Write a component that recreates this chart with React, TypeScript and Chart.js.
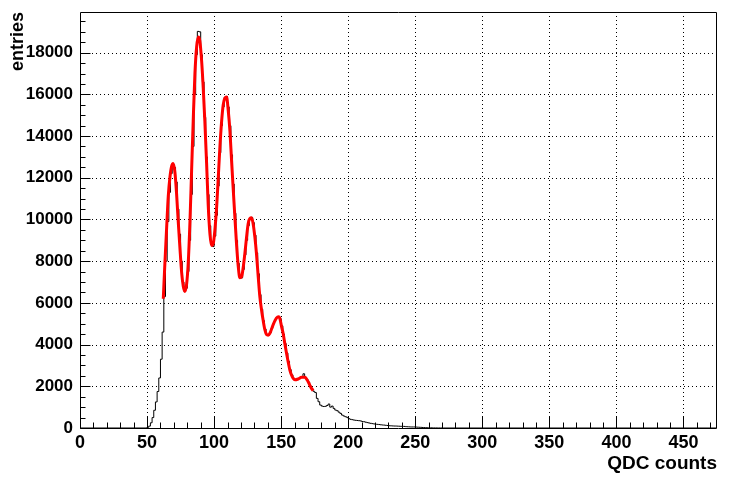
import { useEffect, useRef } from 'react';
import { Chart, registerables } from 'chart.js';

Chart.register(...registerables);

const X_MIN = 0;
const X_MAX = 475;
const Y_MIN = 0;
const Y_MAX = 19950;
const X_TICKS = [0, 50, 100, 150, 200, 250, 300, 350, 400, 450];
const Y_TICKS = [0, 2000, 4000, 6000, 8000, 10000, 12000, 14000, 16000, 18000];
const X_MINOR_STEP = 10;
const Y_MINOR_STEP = 500;
const X_TITLE = 'QDC counts';
const Y_TITLE = 'entries';

// histogram: bins of width BIN_WIDTH starting at HIST_START (all other bins empty)
const HIST_START = 50;
const BIN_WIDTH = 1.25;
const HIST_VALUES = [
  30, 90, 250, 500, 850, 1250, 1750, 2400, 3300, 4600,
  6300, 8000, 9900, 11300, 12200, 12650, 12500, 11800, 10500, 9300,
  8000, 7000, 6550, 6700, 7500, 9000, 11200, 13500, 16000, 17900,
  19020, 19000, 17900, 16600, 14900, 13000, 11200, 9700, 8850, 8700,
  9200, 10200, 11600, 13200, 14500, 15400, 15850, 15900, 15400, 14500,
  13100, 11700, 10300, 9000, 7900, 7250, 7200, 7600, 8300, 9000,
  9700, 10050, 10100, 9850, 9250, 8400, 7400, 6400, 5700, 5150,
  4750, 4480, 4450, 4560, 4780, 5000, 5200, 5300, 5350, 5250,
  4900, 4500, 4050, 3600, 3200, 2800, 2550, 2380, 2300, 2330,
  2380, 2420, 2450, 2600, 2430, 2330, 2200, 2020, 1880, 1760,
  1700, 1420, 1260, 1100, 1050, 1030, 1040, 1080, 1150, 1000,
  1050, 940, 860, 830, 760, 700, 620, 575, 540, 510,
  450, 415, 400, 380, 370, 360, 350, 340, 310, 300,
  280, 260, 240, 225, 210, 195, 180, 175, 165, 155,
  145, 140, 130, 120, 110, 105, 100, 95, 95, 90,
  85, 80, 80, 75, 65, 60, 55, 50, 50, 50,
  45, 40, 35, 30, 25, 20, 15, 12, 10, 8,
  5, 4, 3, 2, 2, 1, 1,
];

// fit curve
const FIT_X = [
  62.1, 63.3, 64.6, 65.8, 67.1, 68.3, 69.5, 70.8, 72.0, 73.3,
  74.5, 75.8, 77.0, 78.2, 79.5, 80.7, 82.0, 83.2, 84.4, 85.7,
  87.0, 88.2, 89.4, 90.7, 91.9, 93.1, 94.4, 95.6, 96.9, 98.1,
  99.4, 100.6, 101.9, 103.1, 104.3, 105.6, 106.8, 108.0, 109.3, 110.5,
  111.8, 113.0, 114.3, 115.5, 116.8, 118.0, 119.2, 120.5, 121.7, 122.9,
  124.2, 125.4, 126.7, 127.9, 129.1, 130.4, 131.6, 132.9, 134.1, 135.4,
  136.6, 137.9, 139.1, 140.3, 141.6, 144.0, 146.6, 148.0, 149.0, 150.3,
  151.5, 152.7, 154.0, 155.2, 156.5, 157.7, 159.0, 160.2, 162.7, 165.2,
  167.7, 170.1, 172.6, 173.9,
];
const FIT_Y = [
  6200, 7900, 9600, 11100, 12050, 12550, 12680, 12250, 11250, 9850,
  8650, 7450, 6800, 6550, 6900, 7900, 9900, 12300, 14700, 17000,
  18300, 18750, 18550, 17600, 16300, 14700, 12700, 10700, 9300, 8750,
  8850, 9500, 10600, 12000, 13450, 14700, 15500, 15820, 15870, 15250,
  14250, 12850, 11400, 10100, 8750, 7750, 7200, 7250, 7700, 8350,
  9150, 9800, 10050, 10080, 9800, 9150, 8350, 7250, 6300, 5650,
  5150, 4700, 4480, 4450, 4540, 4950, 5280, 5330, 5260, 4860,
  4530, 4060, 3580, 3180, 2780, 2540, 2380, 2310, 2350, 2430,
  2430, 2220, 1900, 1790,
];

const FONT = 'Liberation Sans, Arial, Helvetica, sans-serif';

const rootFramePlugin = {
  id: 'rootFrame',
  beforeDatasetsDraw(chart: any) {
    const { ctx, chartArea } = chart;
    const xs = chart.scales.x;
    const ys = chart.scales.y;
    ctx.save();
    ctx.strokeStyle = '#000';
    ctx.lineWidth = 1;
    ctx.setLineDash([1, 3]);
    ctx.beginPath();
    for (const v of X_TICKS) {
      if (v === X_MIN) continue;
      const px = Math.round(xs.getPixelForValue(v)) + 0.5;
      ctx.moveTo(px, chartArea.top);
      ctx.lineTo(px, chartArea.bottom);
    }
    for (const v of Y_TICKS) {
      if (v === Y_MIN) continue;
      const py = Math.round(ys.getPixelForValue(v)) + 0.5;
      ctx.moveTo(chartArea.left, py);
      ctx.lineTo(chartArea.right, py);
    }
    ctx.stroke();
    ctx.restore();
  },
  afterDatasetsDraw(chart: any) {
    const { ctx, chartArea } = chart;
    const xs = chart.scales.x;
    const ys = chart.scales.y;
    const L = Math.round(chartArea.left) + 0.5;
    const R = Math.round(chartArea.right) - 0.5;
    const T = Math.round(chartArea.top) + 0.5;
    const B = Math.round(chartArea.bottom) + 0.5;
    ctx.save();
    ctx.strokeStyle = '#000';
    ctx.lineWidth = 1;
    ctx.setLineDash([]);
    ctx.beginPath();
    ctx.rect(L, T, R - L, B - T);
    for (let v = X_MIN; v <= X_MAX; v += X_MINOR_STEP) {
      const major = X_TICKS.includes(v);
      const px = Math.round(xs.getPixelForValue(v)) + 0.5;
      ctx.moveTo(px, B);
      ctx.lineTo(px, B - (major ? 12 : 6));
    }
    for (let v = Y_MIN; v <= Y_MAX; v += Y_MINOR_STEP) {
      const major = Y_TICKS.includes(v);
      const py = Math.round(ys.getPixelForValue(v)) + 0.5;
      ctx.moveTo(L, py);
      ctx.lineTo(L + (major ? 10 : 5), py);
    }
    ctx.stroke();
    ctx.restore();
  },
};

export default function App() {
  const canvasRef = useRef<HTMLCanvasElement | null>(null);

  useEffect(() => {
    const canvas = canvasRef.current;
    if (!canvas) return;

    const histPoints: { x: number; y: number }[] = [{ x: X_MIN, y: 0 }];
    HIST_VALUES.forEach((v, i) => {
      histPoints.push({ x: HIST_START + i * BIN_WIDTH, y: v });
    });
    const histEnd = HIST_START + HIST_VALUES.length * BIN_WIDTH;
    histPoints.push({ x: histEnd, y: 0 });
    histPoints.push({ x: X_MAX, y: 0 });

    const fitPoints = FIT_X.map((x, i) => ({ x, y: FIT_Y[i] }));

    const chart = new Chart(canvas, {
      type: 'line',
      data: {
        datasets: [
          {
            label: 'fit',
            data: fitPoints,
            borderColor: '#ff0000',
            borderWidth: 3,
            pointRadius: 0,
            fill: false,
            cubicInterpolationMode: 'monotone',
          },
          {
            label: 'hist',
            data: histPoints,
            borderColor: '#000000',
            borderWidth: 1,
            pointRadius: 0,
            fill: false,
            stepped: true,
            tension: 0,
          },
        ],
      },
      options: {
        animation: false,
        responsive: false,
        maintainAspectRatio: false,
        events: [],
        layout: { padding: { top: 12, right: 15, left: 0, bottom: 0 } },
        plugins: {
          legend: { display: false },
          tooltip: { enabled: false },
          title: { display: false },
        },
        scales: {
          x: {
            type: 'linear',
            min: X_MIN,
            max: X_MAX,
            grid: { display: false, drawTicks: false },
            border: { display: false },
            afterBuildTicks: (scale: any) => {
              scale.ticks = X_TICKS.map((v) => ({ value: v }));
            },
            afterFit: (scale: any) => {
              scale.height = 53;
              scale.paddingLeft = 0;
              scale.paddingRight = 0;
            },
            ticks: {
              autoSkip: false,
              maxRotation: 0,
              padding: 4,
              color: '#000',
              font: { family: FONT, size: 18, weight: 'bold' },
              callback: (v: any) => String(v),
            },
            title: {
              display: true,
              text: X_TITLE,
              align: 'end',
              color: '#000',
              font: { family: FONT, size: 19, weight: 'bold' },
              padding: { top: 0, bottom: 6 },
            },
          },
          y: {
            type: 'linear',
            min: Y_MIN,
            max: Y_MAX,
            grid: { display: false, drawTicks: false },
            border: { display: false },
            afterBuildTicks: (scale: any) => {
              scale.ticks = Y_TICKS.map((v) => ({ value: v }));
            },
            afterFit: (scale: any) => {
              scale.width = 80;
              scale.paddingTop = 0;
              scale.paddingBottom = 0;
            },
            ticks: {
              autoSkip: false,
              padding: 7,
              color: '#000',
              font: { family: FONT, size: 17, weight: 'bold' },
              callback: (v: any) => String(v),
            },
            title: {
              display: true,
              text: Y_TITLE,
              align: 'end',
              color: '#000',
              font: { family: FONT, size: 18, weight: 'bold' },
              padding: { top: 7, bottom: 0 },
            },
          },
        },
      } as any,
      plugins: [rootFramePlugin],
    });

    return () => chart.destroy();
  }, []);

  return (
    <div style={{ position: 'absolute', left: 0, top: 0, width: 732, height: 481, background: '#fff' }}>
      <canvas ref={canvasRef} width={732} height={481} style={{ display: 'block' }} />
    </div>
  );
}
